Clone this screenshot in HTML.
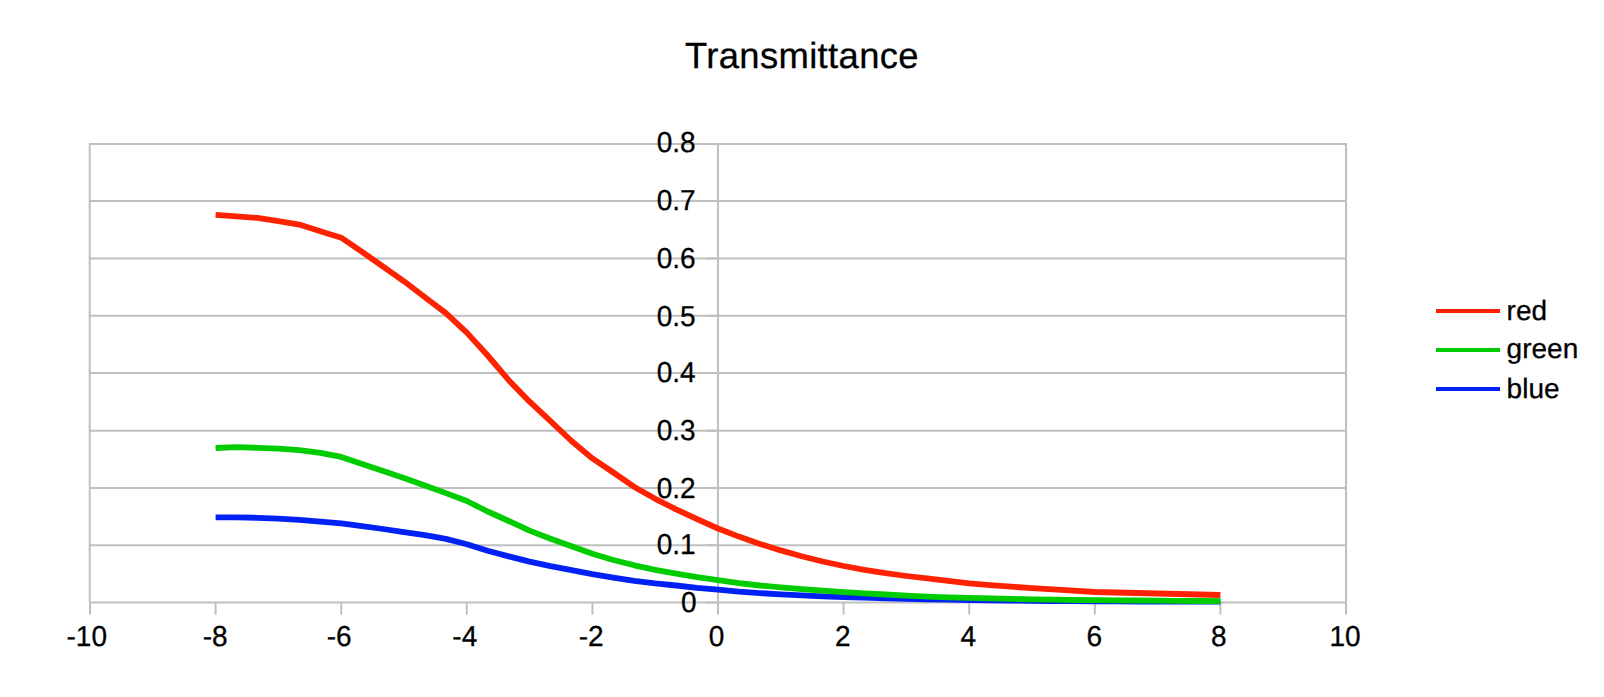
<!DOCTYPE html>
<html lang="en"><head><meta charset="utf-8"><title>Transmittance</title>
<style>html,body{margin:0;padding:0;background:#fff;overflow:hidden}body{width:1604px;height:697px}</style>
</head><body>
<svg width="1604" height="697" viewBox="0 0 1604 697" style="display:block">
<rect width="1604" height="697" fill="#fff"/>
<g stroke="#bfbfbf" stroke-width="2" fill="none">
<line x1="89.0" y1="602.60" x2="1347.0" y2="602.60"/>
<line x1="89.0" y1="545.20" x2="1347.0" y2="545.20"/>
<line x1="89.0" y1="487.90" x2="1347.0" y2="487.90"/>
<line x1="89.0" y1="430.65" x2="1347.0" y2="430.65"/>
<line x1="89.0" y1="373.05" x2="1347.0" y2="373.05"/>
<line x1="89.0" y1="315.80" x2="1347.0" y2="315.80"/>
<line x1="89.0" y1="258.40" x2="1347.0" y2="258.40"/>
<line x1="89.0" y1="201.05" x2="1347.0" y2="201.05"/>
<line x1="89.0" y1="144.10" x2="1347.0" y2="144.10"/>
<line x1="89.75" y1="144.1" x2="89.75" y2="602.6"/>
<line x1="1346.0" y1="144.1" x2="1346.0" y2="602.6"/>
<line x1="718.00" y1="144.1" x2="718.00" y2="602.6"/>
<line x1="90.00" y1="602.6" x2="90.00" y2="614.6"/>
<line x1="215.60" y1="602.6" x2="215.60" y2="614.6"/>
<line x1="341.20" y1="602.6" x2="341.20" y2="614.6"/>
<line x1="466.80" y1="602.6" x2="466.80" y2="614.6"/>
<line x1="592.40" y1="602.6" x2="592.40" y2="614.6"/>
<line x1="718.00" y1="602.6" x2="718.00" y2="614.6"/>
<line x1="843.60" y1="602.6" x2="843.60" y2="614.6"/>
<line x1="969.20" y1="602.6" x2="969.20" y2="614.6"/>
<line x1="1094.80" y1="602.6" x2="1094.80" y2="614.6"/>
<line x1="1220.40" y1="602.6" x2="1220.40" y2="614.6"/>
<line x1="1346.00" y1="602.6" x2="1346.00" y2="614.6"/>
<line x1="706.00" y1="602.60" x2="718.00" y2="602.60"/>
<line x1="706.00" y1="545.20" x2="718.00" y2="545.20"/>
<line x1="706.00" y1="487.90" x2="718.00" y2="487.90"/>
<line x1="706.00" y1="430.65" x2="718.00" y2="430.65"/>
<line x1="706.00" y1="373.05" x2="718.00" y2="373.05"/>
<line x1="706.00" y1="315.80" x2="718.00" y2="315.80"/>
<line x1="706.00" y1="258.40" x2="718.00" y2="258.40"/>
<line x1="706.00" y1="201.05" x2="718.00" y2="201.05"/>
<line x1="706.00" y1="144.10" x2="718.00" y2="144.10"/>
</g>
<g fill="none" stroke-width="5.8" stroke-linejoin="round" stroke-linecap="butt">
<polyline stroke="#0021f5" points="215.6,517.4 236.5,517.4 257.5,517.8 278.4,518.7 299.3,519.9 320.3,521.6 341.2,523.4 362.1,526.1 383.1,529.0 404.0,532.1 424.9,535.2 445.9,538.9 466.8,544.3 487.7,550.8 508.7,556.4 529.6,561.6 550.5,566.2 571.5,570.2 592.4,574.2 613.3,577.7 634.3,580.8 655.2,583.4 676.1,585.5 697.1,587.8 718.0,589.6 738.9,591.6 759.9,593.1 780.8,594.3 801.7,595.4 822.7,596.3 843.6,597.0 864.5,597.7 885.5,598.3 906.4,598.8 927.3,599.3 948.3,599.7 969.2,600.0 990.1,600.3 1011.1,600.6 1032.0,600.9 1052.9,601.0 1073.9,601.2 1094.8,601.4 1115.7,601.4 1136.7,601.5 1157.6,601.5 1178.5,601.5 1199.5,601.6 1220.4,601.6"/>
<polyline stroke="#00cc00" points="215.6,448.0 236.5,447.1 257.5,447.8 278.4,448.6 299.3,450.2 320.3,452.9 341.2,456.9 362.1,464.1 383.1,471.1 404.0,478.0 424.9,485.4 445.9,493.1 466.8,501.0 487.7,511.5 508.7,521.0 529.6,530.6 550.5,538.7 571.5,546.3 592.4,553.7 613.3,560.0 634.3,565.3 655.2,569.8 676.1,573.7 697.1,577.2 718.0,580.1 738.9,583.1 759.9,585.5 780.8,587.4 801.7,589.2 822.7,590.7 843.6,592.1 864.5,593.3 885.5,594.5 906.4,595.6 927.3,596.6 948.3,597.3 969.2,597.9 990.1,598.4 1011.1,598.9 1032.0,599.3 1052.9,599.6 1073.9,600.0 1094.8,600.2 1115.7,600.4 1136.7,600.5 1157.6,600.6 1178.5,600.8 1199.5,601.0 1220.4,601.1"/>
<polyline stroke="#ff2200" points="215.6,214.8 236.5,216.3 257.5,217.9 278.4,221.2 299.3,224.6 320.3,231.2 341.2,237.7 362.1,251.8 383.1,266.7 404.0,281.3 424.9,297.2 445.9,313.1 466.8,332.6 487.7,355.5 508.7,380.2 529.6,401.7 550.5,421.2 571.5,441.0 592.4,458.4 613.3,472.5 634.3,486.9 655.2,498.8 676.1,509.3 697.1,519.2 718.0,528.5 738.9,536.6 759.9,543.9 780.8,550.4 801.7,556.3 822.7,561.5 843.6,566.0 864.5,569.9 885.5,573.2 906.4,576.0 927.3,578.4 948.3,580.9 969.2,583.3 990.1,585.1 1011.1,586.7 1032.0,588.1 1052.9,589.3 1073.9,590.6 1094.8,592.0 1115.7,592.5 1136.7,593.0 1157.6,593.5 1178.5,594.0 1199.5,594.5 1220.4,595.0"/>
</g>
<g font-family="'Liberation Sans', Arial, Helvetica, sans-serif" fill="#000" stroke="#000" stroke-width="0.3" style="text-rendering:geometricPrecision">
<text x="801.95" y="68" font-size="36.4" letter-spacing="0.37" text-anchor="middle">Transmittance</text>
<g font-size="28">
<text transform="translate(696.5,611.85) scale(1,1.03)" text-anchor="end">0</text>
<text transform="translate(695.7,554.15) scale(1,1.03)" text-anchor="end">0.1</text>
<text transform="translate(695.7,497.85) scale(1,1.03)" text-anchor="end">0.2</text>
<text transform="translate(695.7,440.25) scale(1,1.03)" text-anchor="end">0.3</text>
<text transform="translate(695.7,382.35) scale(1,1.03)" text-anchor="end">0.4</text>
<text transform="translate(695.7,326.15) scale(1,1.03)" text-anchor="end">0.5</text>
<text transform="translate(695.7,268.15) scale(1,1.03)" text-anchor="end">0.6</text>
<text transform="translate(695.7,210.15) scale(1,1.03)" text-anchor="end">0.7</text>
<text transform="translate(695.7,152.15) scale(1,1.03)" text-anchor="end">0.8</text>
<text transform="translate(86.72,646.15) scale(1,1.03)" text-anchor="middle">-10</text>
<text transform="translate(215.20,646.15) scale(1,1.03)" text-anchor="middle">-8</text>
<text transform="translate(339.15,646.15) scale(1,1.03)" text-anchor="middle">-6</text>
<text transform="translate(464.77,646.15) scale(1,1.03)" text-anchor="middle">-4</text>
<text transform="translate(591.22,646.15) scale(1,1.03)" text-anchor="middle">-2</text>
<text transform="translate(716.60,646.15) scale(1,1.03)" text-anchor="middle">0</text>
<text transform="translate(842.78,646.15) scale(1,1.03)" text-anchor="middle">2</text>
<text transform="translate(968.35,646.15) scale(1,1.03)" text-anchor="middle">4</text>
<text transform="translate(1094.38,646.15) scale(1,1.03)" text-anchor="middle">6</text>
<text transform="translate(1218.75,646.15) scale(1,1.03)" text-anchor="middle">8</text>
<text transform="translate(1345.00,646.15) scale(1,1.03)" text-anchor="middle">10</text>
</g>
<g font-size="28">
<text x="1506.6" y="320">red</text>
<text x="1506.6" y="358.0">green</text>
<text x="1506.6" y="397.8">blue</text>
</g>
</g>
<g stroke-width="4">
<line x1="1436" y1="311" x2="1500" y2="311" stroke="#ff2200"/>
<line x1="1436" y1="349.9" x2="1500" y2="349.9" stroke="#00cc00"/>
<line x1="1436" y1="389" x2="1500" y2="389" stroke="#0021f5"/>
</g>
</svg>
</body></html>
